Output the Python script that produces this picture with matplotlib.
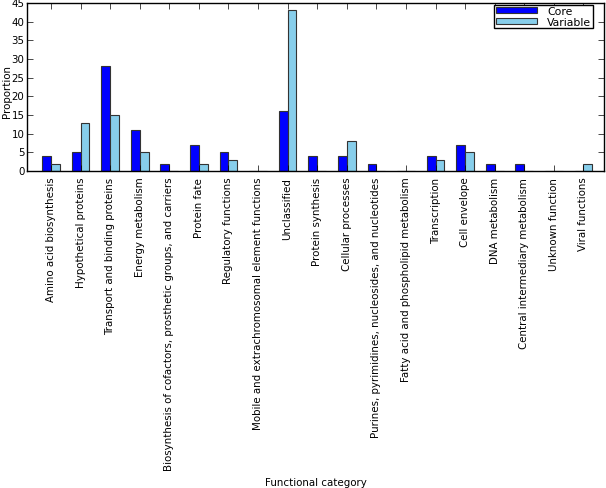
import numpy as np
import matplotlib
matplotlib.use("Agg")
import matplotlib.pyplot as plt

# ----------------------------------------------------------------------------
# Data
# ----------------------------------------------------------------------------

categories = [
    "Amino acid biosynthesis",
    "Hypothetical proteins",
    "Transport and binding proteins",
    "Energy metabolism",
    "Biosynthesis of cofactors, prosthetic groups, and carriers",
    "Protein fate",
    "Regulatory functions",
    "Mobile and extrachromosomal element functions",
    "Unclassified",
    "Protein synthesis",
    "Cellular processes",
    "Purines, pyrimidines, nucleosides, and nucleotides",
    "Fatty acid and phospholipid metabolism",
    "Transcription",
    "Cell envelope",
    "DNA metabolism",
    "Central intermediary metabolism",
    "Unknown function",
    "Viral functions",
]
core = [4, 5, 28, 11, 2, 7, 5, 0, 16, 4, 4, 2, 0, 4, 7, 2, 2, 0, 0]
variable = [2, 13, 15, 5, 0, 2, 3, 0, 43, 0, 8, 0, 0, 3, 5, 0, 0, 0, 2]

WIDTH = 0.3
FS = 7.4

plt.style.use("classic")
fig = plt.figure(figsize=(6.06, 4.89), dpi=100, facecolor="white")
ax = fig.add_axes([0.045, 0.648, 0.952, 0.344])

x = np.arange(len(categories))
ax.bar(x, core, WIDTH, align="edge", color="blue", edgecolor="#333333",
       linewidth=0.8, label="Core")
ax.bar(x + WIDTH, variable, WIDTH, align="edge", color="skyblue",
       edgecolor="#333333", linewidth=0.8, label="Variable")

ax.set_xlim(-0.5, len(categories))
ax.set_ylim(0, 45)
ax.set_yticks(range(0, 46, 5))
ax.set_xticks(x + WIDTH)
ax.set_xticklabels(categories, rotation=90, fontsize=FS)
ax.tick_params(axis="y", labelsize=FS, pad=2)
ax.set_ylabel("Proportion", fontsize=FS)
ax.yaxis.set_label_coords(-0.026, 0.48)
ax.set_xlabel("Functional category", fontsize=FS, labelpad=5)
ax.legend(loc="upper right", bbox_to_anchor=(0.98, 0.99), fontsize=FS + 0.4,
          borderaxespad=0.0, handlelength=3.8, handleheight=0.5,
          borderpad=0.15, labelspacing=0.05, handletextpad=0.9)

fig.savefig("out.png", dpi=100, facecolor="white")
